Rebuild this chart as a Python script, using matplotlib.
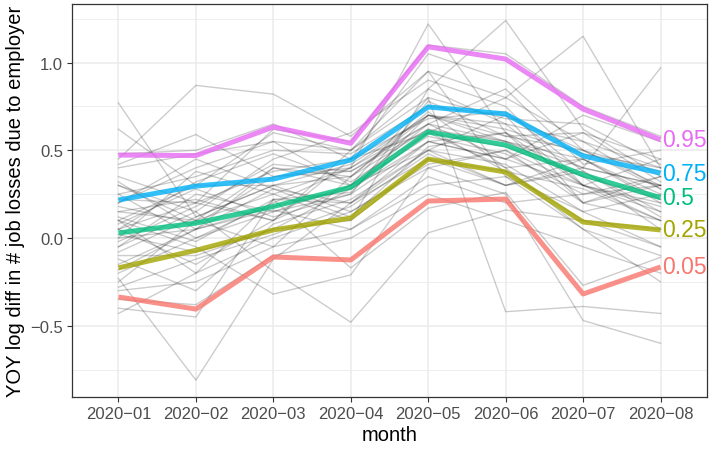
import matplotlib
matplotlib.use("Agg")
import matplotlib.pyplot as plt
import numpy as np

plt.rcParams['font.family'] = ['Liberation Sans', 'DejaVu Sans']

months = ["2020\u221201", "2020\u221202", "2020\u221203", "2020\u221204",
          "2020\u221205", "2020\u221206", "2020\u221207", "2020\u221208"]

# one row per state, YOY log diff by month
state_series = [
    [0.77, 0.12, 0.30, 0.35, 0.70, 0.55, 0.40, 0.30],
    [0.45, 0.87, 0.82, 0.58, 0.95, 0.80, 0.55, 0.40],
    [0.42, 0.59, 0.35, 0.40, 1.22, 0.60, 0.30, 0.20],
    [0.62, 0.30, 0.60, 0.50, 0.85, 1.24, 0.62, 0.35],
    [-0.23, -0.81, -0.12, 0.20, 0.55, 0.45, 0.30, 0.15],
    [0.10, -0.05, -0.32, -0.21, 0.40, 0.50, 0.20, 0.10],
    [-0.05, 0.15, -0.19, -0.48, 0.03, 0.16, 0.10, -0.05],
    [0.20, 0.40, 0.55, 0.30, 0.80, -0.42, -0.39, -0.43],
    [0.05, 0.20, 0.10, 0.45, 0.60, 0.80, 1.15, 0.40],
    [0.15, 0.10, 0.40, 0.30, 0.50, 0.30, 0.40, 0.97],
    [-0.43, -0.20, 0.00, 0.15, 0.40, 0.25, -0.47, -0.60],
    [-0.40, -0.45, 0.22, -0.17, 0.17, 0.26, -0.27, -0.11],
    [0.30, 0.10, 0.25, 0.40, 0.65, 0.55, 0.45, 0.25],
    [0.00, 0.05, 0.18, 0.28, 0.60, 0.52, 0.35, 0.22],
    [0.25, 0.35, 0.50, 0.48, 0.75, 0.70, 0.50, 0.38],
    [-0.10, -0.10, 0.05, 0.10, 0.45, 0.38, 0.10, 0.05],
    [0.35, 0.20, 0.62, 0.55, 1.10, 1.05, 0.75, 0.58],
    [-0.20, 0.00, 0.15, 0.25, 0.55, 0.60, 0.40, 0.30],
    [0.10, 0.30, 0.30, 0.42, 0.70, 0.65, 0.30, 0.10],
    [-0.30, -0.25, -0.05, 0.05, 0.30, 0.35, 0.05, -0.10],
    [0.05, -0.15, 0.10, 0.30, 0.65, 0.45, 0.60, 0.45],
    [0.20, 0.45, 0.28, 0.20, 0.50, 0.70, 0.20, 0.30],
    [-0.15, 0.05, 0.40, 0.35, 0.72, 0.40, 0.45, 0.20],
    [0.48, 0.50, 0.65, 0.45, 1.05, 0.90, 0.50, 0.30],
    [-0.05, 0.25, 0.15, 0.30, 0.58, 0.48, 0.25, 0.35],
    [0.12, -0.02, 0.22, 0.20, 0.45, 0.30, 0.38, 0.15],
    [-0.25, 0.10, -0.05, 0.35, 0.62, 0.55, 0.35, 0.05],
    [0.30, 0.15, 0.45, 0.60, 0.90, 0.75, 0.30, 0.45],
    [0.00, 0.38, 0.25, 0.10, 0.85, 0.65, 0.55, 0.28],
    [-0.12, -0.30, 0.08, 0.22, 0.50, 0.42, 0.15, 0.25],
    [0.18, 0.08, 0.35, 0.38, 0.65, 0.85, 0.42, 0.50],
    [0.08, 0.28, 0.12, 0.25, 0.78, 0.58, 0.60, 0.32],
    [-0.35, -0.38, -0.10, 0.00, 0.25, 0.10, -0.05, -0.20],
    [0.25, 0.00, 0.20, 0.40, 0.70, 0.62, 0.48, 0.40],
    [-0.08, 0.12, 0.30, 0.15, 0.42, 0.50, 0.30, 0.18],
    [0.40, 0.48, 0.55, 0.50, 0.95, 0.35, 0.15, -0.05],
    [0.02, -0.08, 0.05, 0.28, 0.55, 0.45, 0.70, 0.55],
    [0.22, 0.20, 0.38, 0.45, 0.68, 0.72, 0.38, 0.12],
    [-0.18, 0.05, 0.16, 0.05, 0.35, 0.20, 0.25, 0.30],
    [0.05, 0.32, 0.48, 0.32, 0.60, 0.40, 0.05, -0.25],
    [-0.28, -0.12, 0.02, 0.18, 0.48, 0.30, 0.45, 0.22],
    [0.15, 0.22, 0.10, 0.50, 0.80, 0.68, 0.65, 0.42],
    [0.32, 0.05, 0.28, 0.12, 0.52, 0.60, 0.20, 0.35],
    [-0.02, 0.18, 0.42, 0.38, 0.62, 0.38, 0.28, 0.10],
    [0.10, -0.20, 0.22, 0.26, 0.70, 0.58, 0.50, 0.28],
]

quantile_labels = ["0.05", "0.25", "0.5", "0.75", "0.95"]
q05 = [-0.336, -0.405, -0.108, -0.125, 0.211, 0.222, -0.319, -0.165]
q25 = [-0.170, -0.070, 0.046, 0.114, 0.450, 0.376, 0.091, 0.046]
q50 = [0.029, 0.085, 0.180, 0.290, 0.604, 0.530, 0.360, 0.230]
q75 = [0.217, 0.296, 0.336, 0.445, 0.747, 0.707, 0.468, 0.370]
q95 = [0.473, 0.470, 0.633, 0.540, 1.090, 1.020, 0.735, 0.560]
quantile_values = [q05, q25, q50, q75, q95]
quantile_colors = ["#F8766D", "#A3A500", "#00BF7D", "#00B0F6", "#E76BF3"]

fig = plt.figure(figsize=(7.10, 4.52), dpi=100)
ax = fig.add_axes([0.1014, 0.1195, 0.8944, 0.8695])

x = np.arange(1, len(months) + 1)

# state lines
for row in state_series:
    ax.plot(x, row, color="black", alpha=0.2, lw=1.0, zorder=2)

# quantile lines + end labels, semi-transparent so the gray shows through
for lab, vals, col in zip(quantile_labels, quantile_values, quantile_colors):
    ax.plot(x, vals, color=col, alpha=0.8, lw=3.6, solid_capstyle="butt",
            zorder=3)
    ax.text(x[-1] + 0.02, vals[-1], lab, color=col, fontsize=16.5,
            ha="left", va="center", zorder=4, clip_on=False)

# theme_bw look
ax.set_xlim(0.4, len(months) + 0.6)
ax.set_ylim(-0.906, 1.334)
ax.set_xticks(x)
ax.set_xticklabels(months)
ax.set_yticks([-0.5, 0.0, 0.5, 1.0])
ax.set_yticks([-0.75, -0.25, 0.25, 0.75, 1.25], minor=True)
ax.grid(True, which="major", color="#EBEBEB", lw=1.1, zorder=0)
ax.grid(True, which="minor", axis="y", color="#EBEBEB", lw=0.6, zorder=0)
ax.set_axisbelow(True)
ax.tick_params(axis="both", which="major", length=3.5, width=0.8,
               color="#333333", labelcolor="#4D4D4D", labelsize=12, pad=3)
ax.tick_params(axis="both", which="minor", length=0)
for sp in ax.spines.values():
    sp.set_color("#333333")
    sp.set_linewidth(0.9)

ax.set_xlabel("month", fontsize=14.5, labelpad=3)
ax.set_ylabel("YOY log diff in # job losses due to employer", fontsize=14.5,
              labelpad=4)

fig.savefig("out.png", dpi=100)
